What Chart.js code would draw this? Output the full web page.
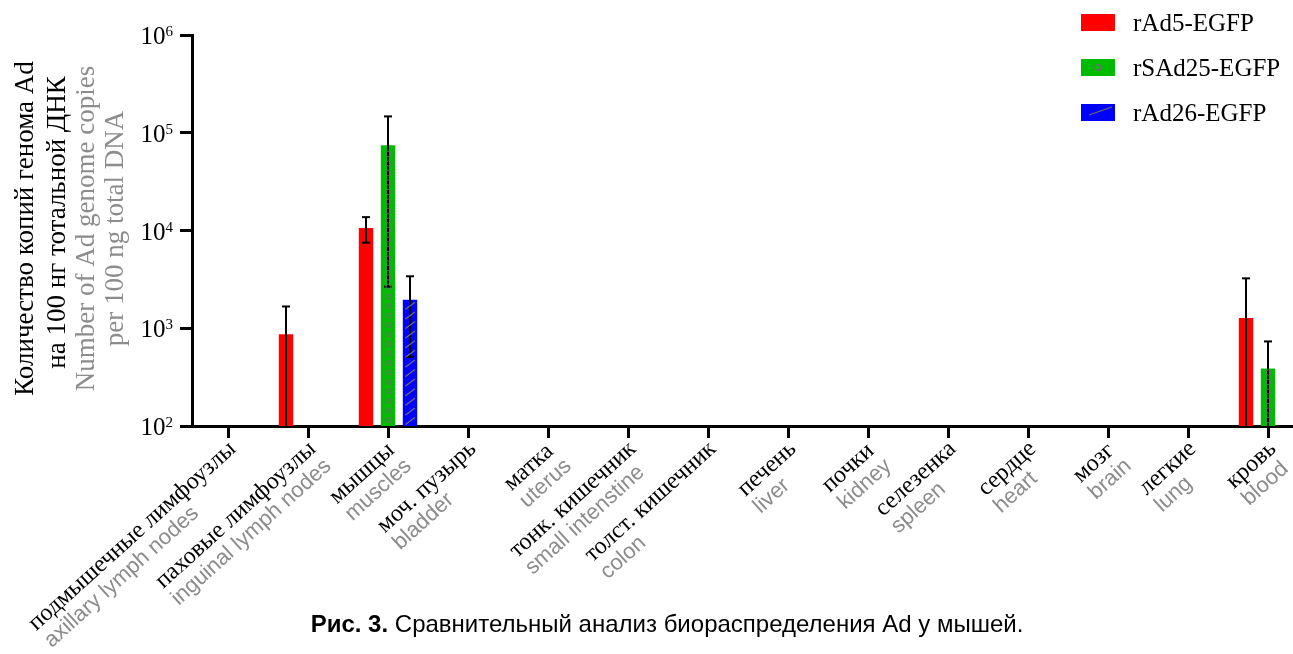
<!DOCTYPE html>
<html><head><meta charset="utf-8">
<script src="https://cdn.jsdelivr.net/npm/chart.js@4.4.1/dist/chart.umd.min.js"></script>
<style>html,body{margin:0;padding:0;background:#fff;overflow:hidden}canvas{display:block}</style>
</head><body>
<canvas id="c" width="1293" height="654"></canvas>
<script>
const labelsRu = ['подмышечные лимфоузлы','паховые лимфоузлы','мышцы','моч. пузырь','матка','тонк. кишечник','толст. кишечник','печень','почки','селезенка','сердце','мозг','легкие','кровь'];
const labelsEn = ['axillary lymph nodes','inguinal lymph nodes','muscles','bladder','uterus','small intenstine','colon','liver','kidney','spleen','heart','brain','lung','blood'];
const seriesNames = ['rAd5-EGFP','rSAd25-EGFP','rAd26-EGFP'];
const seriesColors = ['#ff0000','#00bb00','#0000ff'];
const rAd5     = [null, 870, 10600, null, null, null, null, null, null, null, null, null, null, 1270];
const rAd5Hi   = [null, 1670, 13700, null, null, null, null, null, null, null, null, null, null, 3240];
const rAd5Lo   = [null, null, 7500, null, null, null, null, null, null, null, null, null, null, null];
const rSAd25   = [null, null, 74500, null, null, null, null, null, null, null, null, null, null, 387];
const rSAd25Hi = [null, null, 147000, null, null, null, null, null, null, null, null, null, null, 733];
const rSAd25Lo = [null, null, 2660, null, null, null, null, null, null, null, null, null, null, null];
const rAd26    = [null, null, 1960, null, null, null, null, null, null, null, null, null, null, null];
const rAd26Hi  = [null, null, 3400, null, null, null, null, null, null, null, null, null, null, null];
const rAd26Lo  = [null, null, 510, null, null, null, null, null, null, null, null, null, null, null];
const yTickExponents = [2, 3, 4, 5, 6];
const yTitleRu = ['Количество копий генома Ad', 'на 100 нг тотальной ДНК'];
const yTitleEn = ['Number of Ad genome copies', 'per 100 ng total DNA'];
const captionBold = 'Рис. 3.';
const captionText = ' Сравнительный анализ биораспределения Ad у мышей.';

const SERIF = '"Liberation Serif", "Times New Roman", serif';
const SANS = '"Liberation Sans", Arial, sans-serif';
const GRAY = '#8c8c8c';
const PAT = '#6e6e6e';

function toPts(arr){ return arr.map((y,i)=>({x:i, y:y})); }

const values = [rAd5, rSAd25, rAd26];
const his = [rAd5Hi, rSAd25Hi, rAd26Hi];
const los = [rAd5Lo, rSAd25Lo, rAd26Lo];
const patterns = [null, 'circles', 'hatch'];

function drawCircles(ctx, cx, top, bottom){
  ctx.save(); ctx.strokeStyle = PAT; ctx.lineWidth = 1;
  for (let cy = bottom - 6; cy - 2.6 > top + 1; cy -= 9.5){
    ctx.beginPath(); ctx.arc(cx + 0.6, cy, 2.6, 0, Math.PI*2); ctx.stroke();
  }
  ctx.restore();
}
function drawHatch(ctx, cx, top, bottom){
  ctx.save(); ctx.strokeStyle = PAT; ctx.lineWidth = 1.3;
  for (let cy = bottom - 5; cy - 3.5 > top + 1; cy -= 9.6){
    ctx.beginPath(); ctx.moveTo(cx - 4.5, cy + 3.5); ctx.lineTo(cx + 5, cy - 3.5); ctx.stroke();
  }
  ctx.restore();
}

const decor = {
  id: 'decor',
  beforeDraw(chart){
    const ctx = chart.ctx; ctx.save(); ctx.fillStyle = '#fff';
    ctx.fillRect(0,0,chart.width,chart.height); ctx.restore();
  },
  afterDatasetsDraw(chart){
    const ctx = chart.ctx; const ys = chart.scales.y; const area = chart.chartArea;
    // error bars
    ctx.save(); ctx.strokeStyle = '#000'; ctx.lineWidth = 2;
    chart.data.datasets.forEach((ds, di) => {
      const meta = chart.getDatasetMeta(di);
      meta.data.forEach((bar, i) => {
        const hi = his[di][i]; if (hi == null) return;
        const x = bar.x;
        const yh = ys.getPixelForValue(hi);
        const lo = los[di][i];
        const yl = lo == null ? area.bottom : ys.getPixelForValue(lo);
        ctx.beginPath(); ctx.moveTo(x, yh); ctx.lineTo(x, yl); ctx.stroke();
        ctx.beginPath(); ctx.moveTo(x - 4, yh); ctx.lineTo(x + 4, yh); ctx.stroke();
        if (lo != null){ ctx.beginPath(); ctx.moveTo(x - 4, yl); ctx.lineTo(x + 4, yl); ctx.stroke(); }
      });
    });
    ctx.restore();
    // fill patterns on top
    chart.data.datasets.forEach((ds, di) => {
      const meta = chart.getDatasetMeta(di);
      meta.data.forEach((bar, i) => {
        if (values[di][i] == null) return;
        const p = bar.getProps(['x','y','base'], true);
        if (patterns[di] === 'circles') drawCircles(ctx, p.x, p.y, p.base);
        if (patterns[di] === 'hatch') drawHatch(ctx, p.x, p.y, p.base);
      });
    });
  },
  afterDraw(chart){
    const ctx = chart.ctx; const xs = chart.scales.x; const ys = chart.scales.y;
    // y tick labels
    ctx.save(); ctx.fillStyle = '#000';
    yTickExponents.forEach(e => {
      const py = ys.getPixelForValue(Math.pow(10, e));
      ctx.font = '15px ' + SERIF; const sw = ctx.measureText(String(e)).width;
      const right = 173;
      ctx.textAlign = 'left'; ctx.textBaseline = 'alphabetic';
      ctx.fillText(String(e), right - sw, py + 1);
      ctx.font = '25px ' + SERIF; ctx.textAlign = 'right';
      ctx.fillText('10', right - sw, py + 9);
    });
    ctx.restore();
    // y title
    ctx.save();
    const midY = (chart.chartArea.top + chart.chartArea.bottom) / 2 - 2;
    const tx = [33, 65, 94, 123];
    const lines = [[yTitleRu[0],'#000'],[yTitleRu[1],'#000'],[yTitleEn[0],GRAY],[yTitleEn[1],GRAY]];
    lines.forEach((l, k) => {
      ctx.save(); ctx.translate(tx[k], midY - (k === 1 ? 6 : 0)); ctx.rotate(-Math.PI/2);
      ctx.font = '27px ' + SERIF; ctx.fillStyle = l[1];
      ctx.textAlign = 'center'; ctx.textBaseline = 'alphabetic';
      ctx.fillText(l[0], 0, 0); ctx.restore();
    });
    ctx.restore();
    // x labels
    const ang = -42 * Math.PI / 180;
    labelsRu.forEach((ru, i) => {
      const px = xs.getPixelForValue(i);
      ctx.save();
      ctx.translate(px + 5, xs.top + 20);
      ctx.rotate(ang);
      const fr = '24px ' + SERIF, fe = '22px ' + SANS;
      ctx.font = fr; const wr = ctx.measureText(ru).width;
      ctx.font = fe; const we = ctx.measureText(labelsEn[i]).width;
      const w = Math.max(wr, we);
      ctx.textAlign = 'left'; ctx.textBaseline = 'alphabetic';
      ctx.font = fr; ctx.fillStyle = '#000'; ctx.fillText(ru, -w, 6);
      ctx.font = fe; ctx.fillStyle = GRAY; ctx.fillText(labelsEn[i], -w, 29);
      ctx.restore();
    });
    // legend
    ctx.save();
    chart.data.datasets.forEach((ds, di) => {
      const bx = 1081, by = 14 + 45 * di;
      ctx.fillStyle = ds.backgroundColor; ctx.fillRect(bx, by, 34, 17);
      ctx.strokeStyle = PAT; ctx.lineWidth = 1.2;
      if (patterns[di] === 'circles'){ ctx.beginPath(); ctx.arc(bx + 17, by + 8.5, 2.8, 0, Math.PI*2); ctx.stroke(); }
      if (patterns[di] === 'hatch'){ ctx.beginPath(); ctx.moveTo(bx + 8, by + 11); ctx.lineTo(bx + 31, by + 3); ctx.stroke(); }
      ctx.fillStyle = '#000'; ctx.font = '25px ' + SERIF;
      ctx.textAlign = 'left'; ctx.textBaseline = 'middle';
      ctx.fillText(ds.label, 1133, by + 10);
    });
    ctx.restore();
    // caption
    ctx.save();
    ctx.font = 'bold 24px ' + SANS; const wb = ctx.measureText(captionBold).width;
    ctx.font = '24px ' + SANS; const wt = ctx.measureText(captionText).width;
    const x0 = 667 - (wb + wt) / 2;
    ctx.fillStyle = '#000'; ctx.textAlign = 'left'; ctx.textBaseline = 'alphabetic';
    ctx.font = 'bold 24px ' + SANS; ctx.fillText(captionBold, x0, 632);
    ctx.font = '24px ' + SANS; ctx.fillText(captionText, x0 + wb, 632);
    ctx.restore();
  }
};

const axisGrid = {drawOnChartArea:false, drawTicks:true, tickLength:12, lineWidth:3, color:'#000', offset:false};
new Chart(document.getElementById('c'), {
  type: 'bar',
  data: {
    datasets: values.map((v, di) => ({
      label: seriesNames[di], data: toPts(v), backgroundColor: seriesColors[di], borderWidth: 0
    }))
  },
  options: {
    responsive: false, animation: false, devicePixelRatio: 1,
    layout: {padding: {top: 35, left: 0, right: 0, bottom: 0}},
    plugins: {legend: {display: false}, tooltip: {enabled: false}, title: {display: false}},
    datasets: {bar: {categoryPercentage: 0.825, barPercentage: 0.655}},
    scales: {
      x: {type: 'linear', min: -0.45, max: 13.3125, offset: false,
          afterBuildTicks: s => { s.ticks = labelsRu.map((_, i) => ({value: i})); },
          afterFit: s => { s.height = 228; },
          grid: axisGrid, border: {display: true, width: 3, color: '#000'},
          ticks: {display: false}},
      y: {type: 'logarithmic', min: 100, max: 1e6,
          afterBuildTicks: s => { s.ticks = yTickExponents.map(e => ({value: Math.pow(10, e)})); },
          afterFit: s => { s.width = 192; },
          grid: axisGrid, border: {display: true, width: 3, color: '#000'},
          ticks: {display: false}}
    }
  },
  plugins: [decor]
});
</script>
</body></html>
